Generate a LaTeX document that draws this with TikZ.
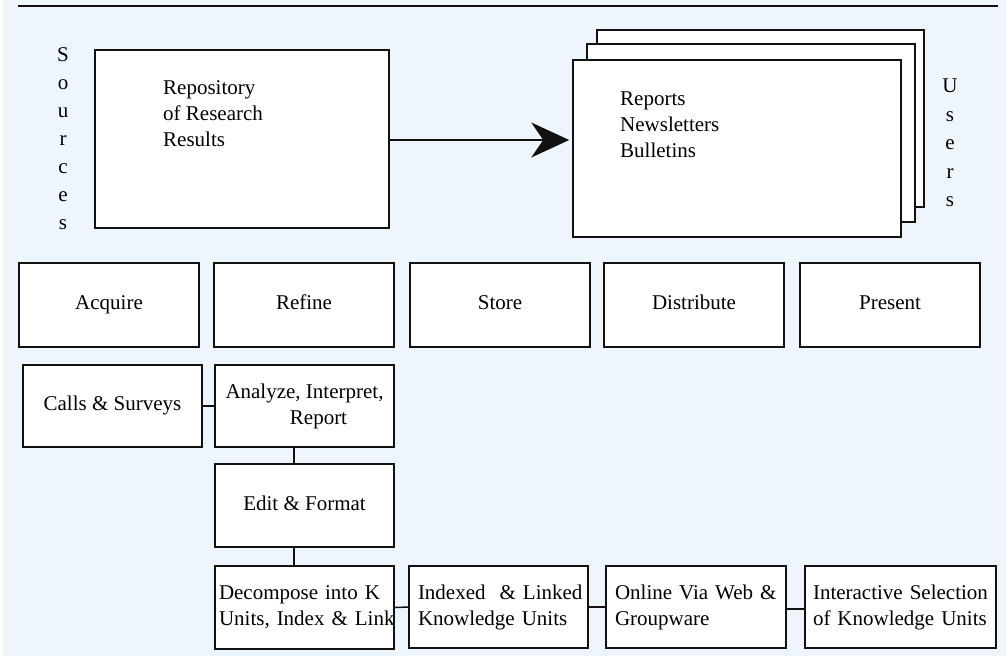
\documentclass[tikz,border=0pt]{standalone}
\usepackage{fontspec}
\setmainfont{Liberation Serif}
\usetikzlibrary{arrows.meta}
\definecolor{bgblue}{HTML}{EEF5FC}
\definecolor{ink}{HTML}{111111}
\begin{document}
\begin{tikzpicture}[x=1pt,y=-1pt,
  box/.style={draw=ink, line width=1.5pt, fill=white, inner sep=0pt,
    font=\fontsize{21}{26}\selectfont},
  one/.style={text height=14pt, text depth=5pt},
  rowbox/.style={box, one, minimum width=180pt, minimum height=84pt},
  lowbox/.style={box, minimum width=179pt, minimum height=82pt},
  lbox/.style={box, align=left, inner xsep=0pt, text width=#1, minimum height=82pt},
  txt/.style={inner sep=0pt, font=\fontsize{21}{26}\selectfont},
  link/.style={draw=ink, line width=1.5pt}]
\useasboundingbox (0,0) rectangle (1006,659);
\fill[bgblue] (3,0) rectangle (1006,656);
\draw[line width=1.5pt, ink] (18,6) -- (998,6);

% top part
\node[box, minimum width=294pt, minimum height=178pt] (repo) at (242,139) {};
\node[txt, anchor=west, align=left] (repotxt) at (163,114) {Repository\\of Research\\Results};
\node[txt, align=center, font=\fontsize{21}{28}\selectfont] (sources) at (63,139) {S\\o\\u\\r\\c\\e\\s};

\node[box, minimum width=327pt, minimum height=177pt] (back) at (760.5,118.5) {};
\node[box, minimum width=328pt, minimum height=178pt] (mid) at (751,133) {};
\node[box, minimum width=328pt, minimum height=177pt] (front) at (737,148.5) {};
\node[txt, anchor=west, align=left] (reptxt) at (620,125) {Reports\\Newsletters\\Bulletins};
\node[txt, align=center, font=\fontsize{21}{28.5}\selectfont] (users) at (950,143) {U\\s\\e\\r\\s};

\draw[link, -{Stealth[length=38pt, width=35pt, inset=12pt]}, shorten >=3pt]
  ([yshift=-1pt]repo.east) -- ([yshift=-1pt]front.west |- repo.east);

% phases
\node[rowbox] (acq) at (109,305) {Acquire};
\node[rowbox] (ref) at (304,305) {Refine};
\node[rowbox] (sto) at (500,305) {Store};
\node[rowbox] (dis) at (694,305) {Distribute};
\node[rowbox] (pre) at (890,305) {Present};

% process
\node[lowbox, one] (calls) at (112.5,406) {Calls \& Surveys};
\node[lowbox, align=center] (ana) at (304.5,406) {Analyze, Interpret,\\\hspace*{28pt}Report};
\node[box, one, minimum width=179pt, minimum height=83pt] (edit) at (304.5,505.5) {Edit \& Format};
\node[lbox=179pt, minimum height=83pt] (dec) at (304.5,607.5) {\hspace*{4pt}\mbox{Decompose into K}\\\hspace*{4pt}\mbox{Units, Index \& Link}};
\node[lbox=179pt] (idx) at (498.5,607) {\hspace*{9pt}\mbox{Indexed\ \ \& Linked}\\\hspace*{9pt}\mbox{Knowledge Units}};
\node[lbox=180pt] (onl) at (696,607) {\hspace*{9pt}\mbox{Online Via Web \&}\\\hspace*{9pt}\mbox{Groupware}};
\node[lbox=191pt] (int) at (900.5,607) {\hspace*{8pt}\mbox{Interactive Selection}\\\hspace*{8pt}\mbox{of Knowledge Units}};

\draw[link] (calls.east) -- (ana.west);
\draw[link] ([xshift=-10.5pt]ana.south) -- ([xshift=-10.5pt]edit.north);
\draw[link] ([xshift=-10.5pt]edit.south) -- ([xshift=-10.5pt]dec.north);
\draw[link] (dec.east) -- (idx.west);
\draw[link] (idx.east) -- (onl.west);
\draw[link] ([yshift=-2pt]onl.east) -- ([yshift=-2pt]int.west);
\end{tikzpicture}
\end{document}
